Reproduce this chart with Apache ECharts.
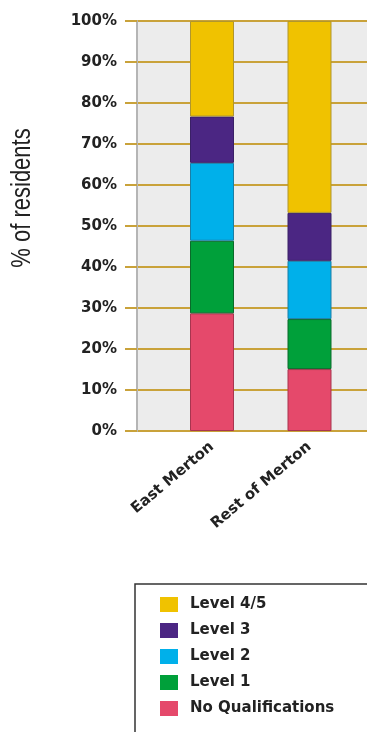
<!DOCTYPE html>
<html>
<head>
<meta charset="utf-8">
<script src="https://cdn.jsdelivr.net/npm/echarts@6/dist/echarts.min.js"></script>
<style>
html,body{margin:0;padding:0;background:#fff;}
#chart{width:367px;height:732px;}
</style>
</head>
<body>
<div id="chart"></div>
<script>
const categories = ['East Merton', 'Rest of Merton'];
const noQualifications = [28.7, 15.1];
const level1 = [17.7, 12.2];
const level2 = [19.0, 14.2];
const level3 = [11.3, 11.7];
const level45 = [23.3, 46.8];
const yTicks = [0, 10, 20, 30, 40, 50, 60, 70, 80, 90, 100];
const legendOrder = ['Level 4/5', 'Level 3', 'Level 2', 'Level 1', 'No Qualifications'];

const seriesDefs = [
  { name: 'No Qualifications', data: noQualifications, color: '#e5496b', border: '#a8354f' },
  { name: 'Level 1', data: level1, color: '#00a03a', border: '#0a6a2a' },
  { name: 'Level 2', data: level2, color: '#00b0ea', border: '#1b7fa6' },
  { name: 'Level 3', data: level3, color: '#4b2683', border: '#3a2066' },
  { name: 'Level 4/5', data: level45, color: '#f0c200', border: '#b0962e' }
];

const gold = '#c9a23a';
const chart = echarts.init(document.getElementById('chart'));
chart.setOption({
  animation: false,
  backgroundColor: '#ffffff',
  grid: [
    { left: 137, right: 0, top: 21, bottom: 301, show: true, backgroundColor: '#ececec', borderWidth: 0 },
    { left: 163.25, right: 8.75, top: 21, bottom: 301 }
  ],
  xAxis: [
    { gridIndex: 0, type: 'category', data: categories, show: false },
    {
      gridIndex: 1, type: 'category', data: categories,
      axisLine: { show: false }, axisTick: { show: false },
      axisLabel: {
        rotate: 40, margin: 14, interval: 0,
        fontFamily: 'DejaVu Sans', fontWeight: 'bold', fontSize: 15, color: '#222'
      }
    }
  ],
  yAxis: [
    {
      gridIndex: 0, type: 'value', min: 0, max: 100, interval: 10,
      axisLine: { show: true, lineStyle: { color: '#b5b5b5', width: 2 } },
      axisTick: { show: true, length: 12, lineStyle: { color: gold, width: 2 } },
      splitLine: { show: true, lineStyle: { color: gold, width: 2 } },
      axisLabel: {
        margin: 20, fontFamily: 'DejaVu Sans', fontWeight: 'bold', fontSize: 15, color: '#222',
        padding: [0, 0, 5, 0],
        formatter: function (v) { return yTicks.indexOf(v) >= 0 ? v + '%' : ''; }
      }
    },
    { gridIndex: 1, type: 'value', min: 0, max: 100, show: false }
  ],
  legend: {
    orient: 'vertical',
    left: 135, top: 584, height: 220,
    data: legendOrder,
    itemWidth: 18, itemHeight: 15, itemGap: 11,
    icon: 'rect',
    itemStyle: { borderWidth: 0 },
    padding: [13, 90, 40, 25],
    borderColor: '#333', borderWidth: 1.5,
    textStyle: { fontFamily: 'DejaVu Sans', fontWeight: 'bold', fontSize: 15, color: '#222', lineHeight: 15, padding: [0, 0, 0, 7] }
  },
  graphic: [
    {
      type: 'text', x: 22, y: 198, rotation: Math.PI / 2, scaleY: 1.25,
      style: { text: '% of residents', font: '22px "Liberation Sans"', fill: '#222', textAlign: 'center', textVerticalAlign: 'middle' }
    }
  ],
  series: seriesDefs.map(function (s) {
    return {
      name: s.name, type: 'bar', stack: 'total', xAxisIndex: 1, yAxisIndex: 1,
      data: s.data, barWidth: 44,
      itemStyle: { color: s.color, borderColor: s.border, borderWidth: 1 }
    };
  })
});
</script>
</body>
</html>
